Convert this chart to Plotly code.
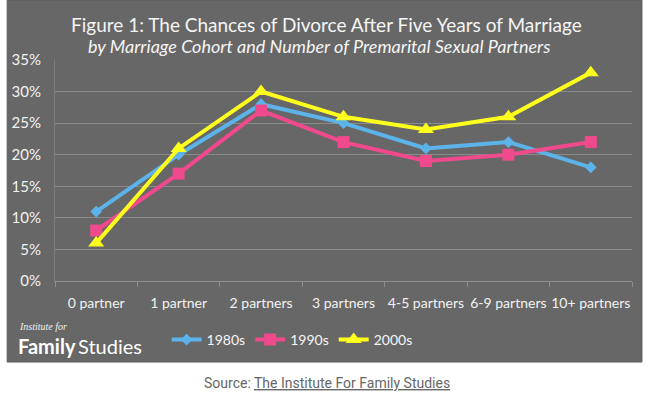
import plotly.graph_objects as go

categories = ["0 partner", "1 partner", "2 partners", "3 partners", "4-5 partners", "6-9 partners", "10+ partners"]
s1980 = [11, 20, 28, 25, 21, 22, 18]
s1990 = [8, 17, 27, 22, 19, 20, 22]
s2000 = [6, 21, 30, 26, 24, 26, 33]
y_ticks = [0, 5, 10, 15, 20, 25, 30, 35]
y_tick_labels = [f"{v}%" for v in y_ticks]

W, H = 651, 397
L, R, T, B = 53, 19, 60, 116
pw, ph = W - L - R, H - T - B

def px(x):
    return (x - L) / pw

def py(y):
    return (H - B - y) / ph

fig = go.Figure()
series = [
    ("1980s", s1980, "#5CB3EA", "diamond", 9),
    ("1990s", s1990, "#F04A8C", "square", 12),
    ("2000s", s2000, "#FFFF1E", "triangle-up", 14),
]
for name, vals, col, sym, sz in series:
    fig.add_trace(go.Scatter(
        x=categories, y=vals, name=name, mode="lines+markers",
        line=dict(color=col, width=4),
        marker=dict(symbol=sym, size=sz, color=col),
    ))

font = "Lato, 'Open Sans', sans-serif"
fig.update_layout(
    width=W, height=H,
    margin=dict(l=L, r=R, t=T, b=B),
    paper_bgcolor="white",
    plot_bgcolor="rgba(0,0,0,0)",
    font=dict(family=font, color="#F2F2F2", size=14),
    showlegend=True,
    legend=dict(orientation="h", x=px(165), y=py(340), xanchor="left", yanchor="middle",
                font=dict(size=14, color="#F5F5F5"), bgcolor="rgba(0,0,0,0)",
                itemwidth=30, tracegroupgap=0),
    xaxis=dict(type="category", range=[-0.5, 6.5], showgrid=False,
               showline=True, linecolor="#8E8E8E", linewidth=1,
               ticks="outside", tickson="boundaries", ticklen=5, tickcolor="#8E8E8E",
               tickangle=0, ticklabelstandoff=9,
               tickfont=dict(size=14, color="#F2F2F2", family=font), fixedrange=True),
    yaxis=dict(range=[0, 35], tickvals=y_ticks, ticktext=y_tick_labels,
               showgrid=True, gridcolor="#8A8A8A", gridwidth=1,
               showline=True, linecolor="#7E7E7E", zeroline=False,
               ticks="", ticklen=0, ticklabelstandoff=10,
               tickfont=dict(size=15, color="#F2F2F2"), fixedrange=True),
    shapes=[dict(type="rect", xref="paper", yref="paper", layer="below",
                 x0=px(5), x1=px(642), y0=py(362), y1=py(0),
                 fillcolor="#676767", line=dict(color="#5A5A5A", width=1))],
    annotations=[
        dict(text="Figure 1: The Chances of Divorce After Five Years of Marriage",
             xref="paper", yref="paper", x=px(325), y=py(25), xanchor="center", yanchor="middle",
             showarrow=False, font=dict(size=19, color="#F5F5F5", family=font)),
        dict(text="<i>by Marriage Cohort and Number of Premarital Sexual Partners</i>",
             xref="paper", yref="paper", x=px(318), y=py(46), xanchor="center", yanchor="middle",
             showarrow=False, font=dict(size=18, color="#F5F5F5", family=font)),
        dict(text="<i>Institute for</i>",
             xref="paper", yref="paper", x=px(15), y=py(326), xanchor="left", yanchor="middle",
             showarrow=False, font=dict(size=10, color="#F0F0F0", family="'Liberation Serif', serif")),
        dict(text="<b>Family</b>\u2009Studies",
             xref="paper", yref="paper", x=px(14), y=py(346), xanchor="left", yanchor="middle",
             showarrow=False, font=dict(size=20, color="#FFFFFF", family=font)),
        dict(text="Source: <span style='text-decoration:underline'>The Institute For Family Studies</span>",
             xref="paper", yref="paper", x=px(326), y=py(383), xanchor="center", yanchor="middle",
             showarrow=False, font=dict(size=14, color="#666666", family="Roboto, sans-serif")),
    ],
)

fig.write_html("out.html", config={"displayModeBar": False},
               post_script="document.body.style.margin='0';")
